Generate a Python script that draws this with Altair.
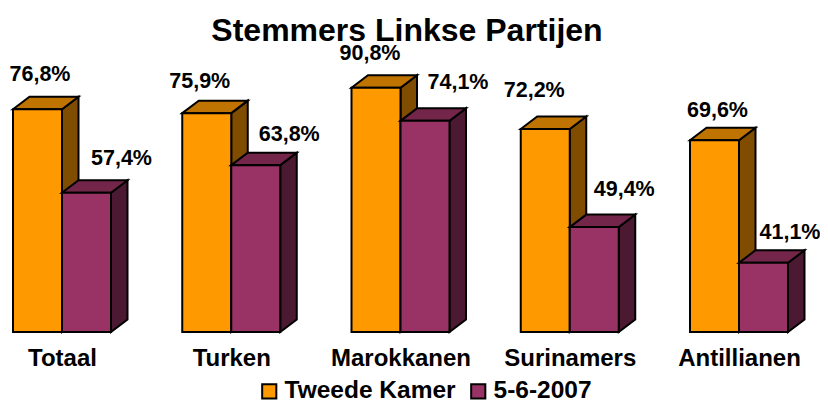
import altair as alt
import pandas as pd

FONT = "Liberation Sans"

categories = ["Totaal", "Turken", "Marokkanen", "Surinamers", "Antillianen"]
series_names = ["Tweede Kamer", "5-6-2007"]
# bar heights as drawn in the picture
values_a = [76.8, 75.9, 81.8, 72.2, 69.6]
values_b = [57.4, 63.8, 74.1, 49.4, 41.1]
# label texts as printed in the picture
labels_a = ["76,8%", "75,9%", "90,8%", "72,2%", "69,6%"]
labels_b = ["57,4%", "63,8%", "74,1%", "49,4%", "41,1%"]
# hand-placed label offsets in the original (pixels from the front-top centre)
shift_x_a = [2.5, -7, -6, -11, 3]
shift_x_b = [35, 33.5, 33, 30, 26.5]
shift_y_a = [34, 31, 34, 38, 29]
shift_y_b = [34, 30, 38, 37, 30]

colors_a = {"front": "#FF9900", "top": "#BF7300", "side": "#7F4C00"}
colors_b = {"front": "#993366", "top": "#732649", "side": "#4C1933"}

# geometry
W, H = 812, 282
PAD_TOP, PAD_BOTTOM = 42, 69
STEP = 169.25
ORIGIN = 54.0
PX_PER_UNIT = 4.3
Y_MIN = 25.0
x_dom = [-ORIGIN / STEP, (W - ORIGIN) / STEP]
y_dom = [Y_MIN, Y_MIN + H / PX_PER_UNIT]
BAR = 49 / STEP
DX = 16.5 / STEP
DY = 12.5 / PX_PER_UNIT

x_scale = alt.Scale(domain=x_dom, nice=False, zero=False)
y_scale = alt.Scale(domain=y_dom, nice=False, zero=False)


def build(values, start):
    front, side, top = [], [], []
    for i, v in enumerate(values):
        x0 = i + start
        x1 = x0 + BAR
        front.append(dict(g=i, x=x0, x2=x1, y=Y_MIN, y2=v))
        side += [
            dict(g=i, x=x1, y=v, y2=Y_MIN),
            dict(g=i, x=x1 + DX, y=v + DY, y2=Y_MIN + DY),
        ]
        top += [
            dict(g=i, x=x0, y=v, y2=v),
            dict(g=i, x=x0 + DX, y=v + DY, y2=v),
            dict(g=i, x=x1, y=v + DY, y2=v),
            dict(g=i, x=x1 + DX, y=v + DY, y2=v + DY),
        ]
    return pd.DataFrame(front), pd.DataFrame(side), pd.DataFrame(top)


label_expr = "[" + ",".join(f"'{c}'" for c in categories) + "][datum.value]"
x_axis = alt.Axis(
    values=list(range(len(categories))), labelExpr=label_expr, title=None,
    domain=False, ticks=False, grid=False, labelFont=FONT, labelFontWeight="bold",
    labelFontSize=24, labelColor="black", labelPadding=14, labelOverlap=False,
    labelFlush=False, labelBound=False,
)


def X():
    return alt.X("x:Q", scale=x_scale, axis=x_axis)


Y = lambda: alt.Y("y:Q", scale=y_scale, axis=None)
Y2 = alt.Y2("y2:Q")
STROKE = dict(stroke="black", strokeWidth=2, strokeJoin="miter")

color_enc = alt.Color(
    "series:N",
    scale=alt.Scale(domain=series_names, range=[colors_a["front"], colors_b["front"]]),
    legend=alt.Legend(
        title=None, orient="none", legendX=249, legendY=329, direction="horizontal",
        symbolType="square", symbolSize=200, symbolStrokeColor="black", symbolStrokeWidth=2,
        symbolOpacity=1, labelFont=FONT, labelFontWeight="bold", labelFontSize=24.5,
        labelColor="black", labelOffset=3, columnPadding=10, labelLimit=300,
    ),
)


def faces(values, start, colors, name):
    f, s, t = build(values, start)
    f["series"] = name
    side = alt.Chart(s).mark_area(color=colors["side"], **STROKE).encode(
        x=X(), y=Y(), y2=Y2, detail="g:N")
    top = alt.Chart(t).mark_area(color=colors["top"], **STROKE).encode(
        x=X(), y=Y(), y2=Y2, detail="g:N")
    front = alt.Chart(f).mark_rect(**STROKE).encode(
        x=X(), x2="x2:Q", y=Y(), y2=Y2, color=color_enc)
    return [side, top, front]


def label_frame(texts, start, sx, sy, values):
    return pd.DataFrame([
        dict(t=texts[i], x=i + start + BAR / 2 + sx[i] / STEP, y=values[i] + sy[i] / PX_PER_UNIT)
        for i in range(len(texts))
    ])


labels_df = pd.concat([
    label_frame(labels_a, -BAR, shift_x_a, shift_y_a, values_a),
    label_frame(labels_b, 0, shift_x_b, shift_y_b, values_b),
])
text = alt.Chart(labels_df).mark_text(
    font=FONT, fontWeight="bold", fontSize=21.5, color="black", align="center", baseline="middle"
).encode(x=X(), y=Y(), text="t:N")

chart = alt.layer(
    *faces(values_a, -BAR, colors_a, series_names[0]),
    *faces(values_b, 0, colors_b, series_names[1]),
    text,
).properties(
    width=W, height=H,
    title=alt.TitleParams(
        "Stemmers Linkse Partijen", font=FONT, fontWeight="bold", fontSize=32,
        color="black", anchor="middle", dx=-7, offset=-5,
    ),
    padding={"left": 0, "right": 0, "top": PAD_TOP, "bottom": PAD_BOTTOM},
    autosize=alt.AutoSizeParams(type="none"),
).configure_view(stroke=None)

chart.save("out.html", embed_options={"renderer": "svg", "actions": False})
